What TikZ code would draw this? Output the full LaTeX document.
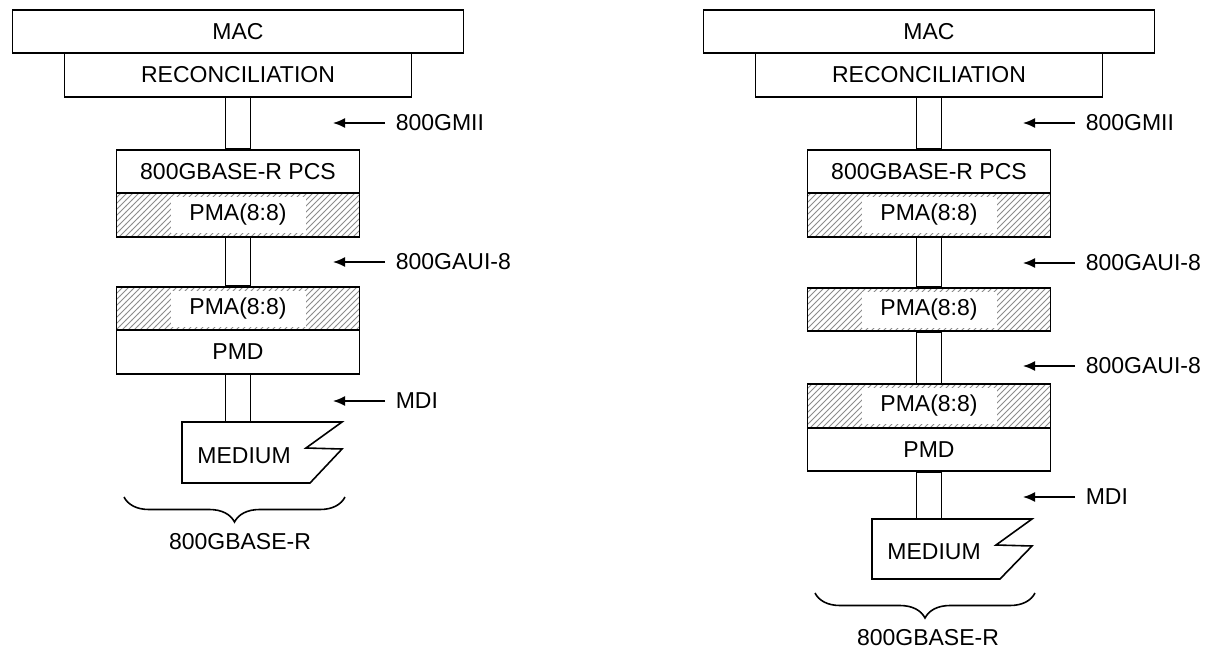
\documentclass[tikz,border=0pt]{standalone}
\usepackage{fontspec}
\setmainfont{Liberation Sans}
\usetikzlibrary{arrows.meta, patterns, decorations.pathreplacing, positioning}
\tikzset{layer/.style={draw,rectangle,minimum width=121.5pt,minimum height=21.75pt,inner sep=0pt},
    macbox/.style={layer,minimum width=225.5pt},
    recbox/.style={layer,minimum width=173.5pt},
    pmalayer/.style={layer,pattern=north east lines,pattern color=black!45,
        label={[fill=white,minimum width=67.5pt,minimum height=18pt,inner sep=0pt]center:PMA(8:8)}},
    ifarrow/.style={draw,-{Latex[length=6pt,width=5pt]}},
    iflabel/.style={anchor=west,inner xsep=5pt,inner ysep=0pt},
    medium/.style={draw,line join=miter}}

\begin{document}
\begin{tikzpicture}[x=0.5pt,y=-0.5pt,line width=0.8pt,font=\fontsize{11.5}{13}\selectfont]
    \useasboundingbox (0,0) rectangle (1212,650);

    % common top of both stacks
    \foreach \cx/\s in {238/L, 929/R} {
        \node[macbox] (mac\s) at (\cx,31.5) {MAC};
        \node[recbox] (rec\s) at (\cx,75) {RECONCILIATION};
        \node[layer] (pcs\s) at (\cx,171.5) {800GBASE-R PCS};
        \node[pmalayer] (pmaA\s) at (\cx,215) {};
    }

    % left stack
    \node[pmalayer] (pmaBL) at (238,308.5) {};
    \node[layer] (pmdL) at (238,352) {PMD};
    \coordinate (medL) at (182,422);
    \draw[medium] (medL) -- ++(160,0) -- ++(-36,26) -- ++(36,1) -- ++(-32,34) -- ++(-128,0) -- cycle;
    \node[anchor=west] (medtxtL) at (190,456) {MEDIUM};

    % right stack
    \node[pmalayer] (pmaBR) at (929,309.5) {};
    \node[pmalayer] (pmaCR) at (929,406) {};
    \node[layer] (pmdR) at (929,449.5) {PMD};
    \coordinate (medR) at (872,519);
    \draw[medium] (medR) -- ++(160,0) -- ++(-36,26) -- ++(36,1) -- ++(-32,33) -- ++(-128,0) -- cycle;
    \node[anchor=west] (medtxtR) at (880,552) {MEDIUM};

    % links between layers
    \foreach \a/\b in {recL/pcsL, pmaAL/pmaBL, recR/pcsR, pmaAR/pmaBR, pmaBR/pmaCR}
        \draw ([xshift=-6.25pt]\a.south) rectangle ([xshift=6.25pt]\b.north);
    \draw ([xshift=-6.25pt]pmdL.south) rectangle ([xshift=6.25pt]pmdL.south |- medL);
    \draw ([xshift=-6.25pt]pmdR.south) rectangle ([xshift=6.25pt]pmdR.south |- medR);

    % interface labels
    \foreach \x/\y/\n/\t in {385/123/gmiiL/800GMII, 385/262/auiL/800GAUI-8, 385/401/mdiL/MDI,
        1075/123/gmiiR/800GMII, 1075/263/auiR/800GAUI-8, 1075/366/auiRR/800GAUI-8, 1075/497/mdiR/MDI} {
        \node[iflabel] (\n) at (\x,\y) {\t};
        \coordinate (\n tip) at (\x-52,\y);
        \path[ifarrow] (\n.west) -- (\n tip);
    }

    % braces
    \coordinate (bsL) at (124,497);
    \coordinate (beL) at (345,497);
    \draw[decorate,decoration={brace,mirror,amplitude=12.5pt}] (bsL) -- (beL);
    \node (phyL) at (240,542) {800GBASE-R};
    \coordinate (bsR) at (815,593);
    \coordinate (beR) at (1035,593);
    \draw[decorate,decoration={brace,mirror,amplitude=12.5pt}] (bsR) -- (beR);
    \node (phyR) at (928,638) {800GBASE-R};
\end{tikzpicture}
\end{document}
